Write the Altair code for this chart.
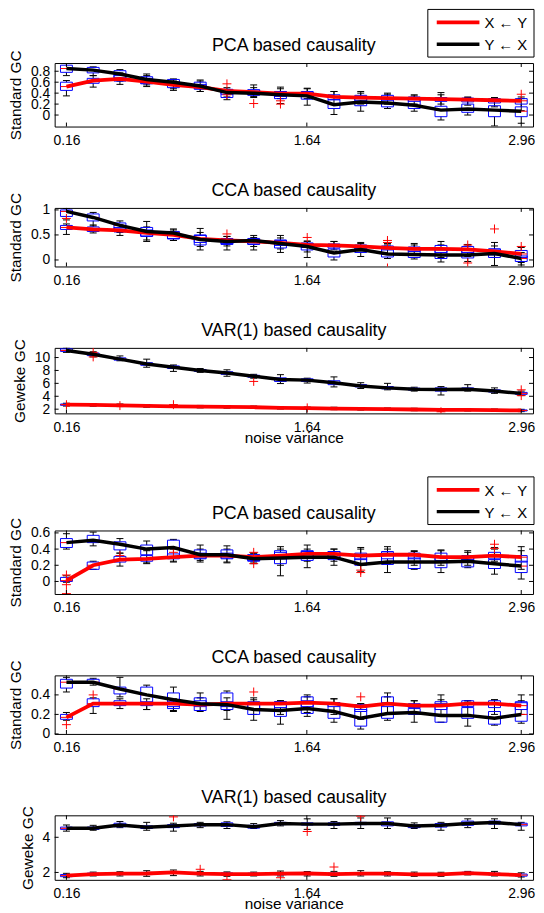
import altair as alt
import pandas as pd

FONT = "Liberation Sans"
NOISE = [0.16, 0.3247, 0.4894, 0.6541, 0.8188, 0.9835, 1.1482, 1.3129, 1.4776,
         1.6424, 1.8071, 1.9718, 2.1365, 2.3012, 2.4659, 2.6306, 2.7953, 2.96]
X_TICKS = [0.16, 1.64, 2.96]
SERIES = ["X \u2190 Y", "Y \u2190 X"]
COLORS = ["#ff0000", "#000000"]

# ---------------- Panel 1: PCA (top figure) ----------------
p1_red_med = [0.52, 0.63, 0.66, 0.61, 0.55, 0.51, 0.44, 0.42, 0.39, 0.39, 0.33, 0.32, 0.31, 0.30, 0.29, 0.28, 0.27, 0.26]
p1_red_q1 = [0.45, 0.58, 0.62, 0.57, 0.50, 0.47, 0.38, 0.38, 0.34, 0.34, 0.28, 0.27, 0.27, 0.25, 0.25, 0.24, 0.22, 0.20]
p1_red_q3 = [0.60, 0.67, 0.72, 0.67, 0.60, 0.56, 0.47, 0.46, 0.43, 0.43, 0.37, 0.36, 0.36, 0.33, 0.32, 0.31, 0.30, 0.30]
p1_red_lo = [0.35, 0.51, 0.56, 0.52, 0.45, 0.43, 0.33, 0.34, 0.30, 0.30, 0.20, 0.20, 0.20, 0.20, 0.20, 0.18, 0.15, 0.08]
p1_red_hi = [0.63, 0.72, 0.77, 0.72, 0.64, 0.62, 0.50, 0.50, 0.48, 0.48, 0.43, 0.40, 0.40, 0.37, 0.37, 0.33, 0.32, 0.33]
p1_blk_med = [0.85, 0.82, 0.75, 0.65, 0.60, 0.53, 0.41, 0.40, 0.37, 0.35, 0.19, 0.24, 0.22, 0.18, 0.09, 0.11, 0.09, 0.07]
p1_blk_q1 = [0.78, 0.77, 0.68, 0.58, 0.55, 0.49, 0.32, 0.36, 0.30, 0.29, 0.12, 0.17, 0.15, 0.12, -0.03, 0.05, -0.03, -0.03]
p1_blk_q3 = [0.91, 0.87, 0.81, 0.70, 0.65, 0.60, 0.46, 0.46, 0.43, 0.42, 0.28, 0.33, 0.30, 0.28, 0.16, 0.20, 0.17, 0.15]
p1_blk_lo = [0.72, 0.72, 0.62, 0.55, 0.48, 0.43, 0.28, 0.32, 0.21, 0.18, 0.01, 0.07, 0.12, 0.07, -0.09, 0.00, -0.20, -0.15]
p1_blk_hi = [0.95, 0.88, 0.83, 0.75, 0.66, 0.64, 0.47, 0.55, 0.51, 0.49, 0.43, 0.43, 0.38, 0.35, 0.41, 0.32, 0.30, 0.30]
p1_out_i = [6, 6, 7, 8, 8, 17]
p1_out_v = [0.57, 0.37, 0.21, 0.26, 0.20, 0.38]

# ---------------- Panel 2: CCA (top figure) ----------------
p2_red_med = [0.65, 0.61, 0.59, 0.54, 0.50, 0.42, 0.39, 0.37, 0.34, 0.30, 0.29, 0.27, 0.24, 0.22, 0.22, 0.21, 0.17, 0.12]
p2_red_q1 = [0.61, 0.57, 0.56, 0.48, 0.43, 0.35, 0.33, 0.32, 0.29, 0.25, 0.24, 0.23, 0.20, 0.17, 0.15, 0.15, 0.10, 0.05]
p2_red_q3 = [0.69, 0.66, 0.65, 0.60, 0.55, 0.49, 0.43, 0.41, 0.39, 0.34, 0.32, 0.30, 0.28, 0.26, 0.29, 0.27, 0.22, 0.19]
p2_red_lo = [0.51, 0.54, 0.49, 0.40, 0.39, 0.27, 0.28, 0.27, 0.22, 0.16, 0.20, 0.18, 0.13, 0.10, 0.05, 0.07, 0.05, -0.05]
p2_red_hi = [0.72, 0.70, 0.70, 0.66, 0.60, 0.55, 0.47, 0.45, 0.44, 0.38, 0.37, 0.33, 0.33, 0.33, 0.30, 0.31, 0.28, 0.25]
p2_blk_med = [0.97, 0.85, 0.69, 0.57, 0.54, 0.41, 0.37, 0.39, 0.33, 0.27, 0.14, 0.21, 0.12, 0.11, 0.10, 0.10, 0.13, 0.03]
p2_blk_q1 = [0.87, 0.78, 0.62, 0.47, 0.42, 0.30, 0.31, 0.31, 0.24, 0.20, 0.06, 0.15, 0.06, 0.05, 0.03, 0.04, 0.05, -0.03]
p2_blk_q3 = [1.00, 0.92, 0.74, 0.65, 0.57, 0.50, 0.42, 0.43, 0.40, 0.33, 0.22, 0.28, 0.22, 0.20, 0.20, 0.19, 0.22, 0.08]
p2_blk_lo = [0.80, 0.68, 0.55, 0.37, 0.39, 0.20, 0.20, 0.20, 0.15, 0.05, 0.00, 0.07, 0.03, 0.02, -0.04, -0.03, -0.11, -0.10]
p2_blk_hi = [1.03, 0.95, 0.78, 0.77, 0.62, 0.63, 0.47, 0.49, 0.49, 0.37, 0.37, 0.35, 0.30, 0.30, 0.37, 0.30, 0.35, 0.15]
p2_out_i = [0, 6, 9, 12, 12, 12, 15, 15, 16, 17]
p2_out_v = [0.83, 0.52, 0.45, 0.39, 0.35, -0.16, 0.30, -0.06, 0.62, 0.27]

# ---------------- Panel 3: VAR(1) (top figure) ----------------
p3_red_med = [2.70, 2.65, 2.60, 2.52, 2.45, 2.40, 2.35, 2.30, 2.20, 2.15, 2.10, 2.05, 2.00, 1.95, 1.90, 1.90, 1.85, 1.80]
p3_red_q1 = [2.60, 2.56, 2.50, 2.42, 2.36, 2.31, 2.26, 2.22, 2.12, 2.06, 2.01, 1.97, 1.91, 1.86, 1.82, 1.81, 1.77, 1.72]
p3_red_q3 = [2.80, 2.74, 2.69, 2.61, 2.55, 2.49, 2.44, 2.39, 2.29, 2.24, 2.19, 2.14, 2.09, 2.04, 1.99, 1.98, 1.93, 1.88]
p3_red_lo = [2.48, 2.46, 2.40, 2.30, 2.26, 2.20, 2.16, 2.12, 2.02, 1.96, 1.92, 1.86, 1.82, 1.76, 1.70, 1.72, 1.66, 1.62]
p3_red_hi = [2.92, 2.84, 2.80, 2.72, 2.64, 2.58, 2.55, 2.48, 2.38, 2.33, 2.30, 2.24, 2.18, 2.14, 2.08, 2.08, 2.02, 1.98]
p3_blk_med = [11.10, 10.50, 9.75, 9.00, 8.50, 8.00, 7.60, 7.10, 6.60, 6.50, 6.10, 5.60, 5.30, 5.10, 5.05, 5.10, 4.80, 4.45]
p3_blk_q1 = [10.95, 10.30, 9.60, 8.80, 8.30, 7.85, 7.40, 6.95, 6.30, 6.30, 5.80, 5.45, 5.15, 4.95, 4.80, 4.90, 4.65, 4.30]
p3_blk_q3 = [11.35, 10.70, 9.95, 9.20, 8.70, 8.15, 7.80, 7.25, 6.85, 6.70, 6.40, 5.80, 5.50, 5.25, 5.30, 5.30, 5.00, 4.60]
p3_blk_lo = [10.80, 10.10, 9.50, 8.50, 7.85, 7.70, 7.10, 6.80, 5.97, 6.05, 5.45, 5.20, 5.00, 4.80, 4.20, 4.80, 4.45, 4.10]
p3_blk_hi = [11.50, 10.90, 10.25, 9.75, 8.85, 8.30, 8.10, 7.40, 7.35, 6.80, 7.00, 6.10, 6.00, 5.40, 5.50, 5.80, 5.30, 4.80]
p3_out_i = [1, 1, 7, 17, 17, 0, 2, 4, 9, 14]
p3_out_v = [10.10, 10.80, 6.30, 5.00, 4.10, 2.70, 2.55, 2.70, 2.20, 1.60]

# ---------------- Panel 4: PCA (bottom figure) ----------------
p4_red_med = [0.01, 0.20, 0.27, 0.28, 0.30, 0.32, 0.32, 0.30, 0.32, 0.34, 0.34, 0.32, 0.33, 0.33, 0.30, 0.30, 0.32, 0.30]
p4_red_q1 = [0.00, 0.15, 0.24, 0.25, 0.28, 0.28, 0.28, 0.26, 0.28, 0.29, 0.30, 0.27, 0.28, 0.28, 0.26, 0.27, 0.28, 0.24]
p4_red_q3 = [0.05, 0.24, 0.31, 0.32, 0.34, 0.35, 0.35, 0.33, 0.38, 0.38, 0.37, 0.35, 0.37, 0.35, 0.35, 0.32, 0.36, 0.32]
p4_red_lo = [-0.01, 0.15, 0.19, 0.22, 0.25, 0.24, 0.24, 0.24, 0.20, 0.25, 0.25, 0.20, 0.22, 0.20, 0.20, 0.20, 0.25, 0.15]
p4_red_hi = [0.07, 0.25, 0.35, 0.38, 0.40, 0.40, 0.40, 0.35, 0.40, 0.40, 0.40, 0.40, 0.40, 0.37, 0.38, 0.36, 0.40, 0.38]
p4_blk_med = [0.48, 0.51, 0.46, 0.40, 0.42, 0.33, 0.33, 0.28, 0.29, 0.30, 0.30, 0.21, 0.24, 0.24, 0.24, 0.25, 0.22, 0.19]
p4_blk_q1 = [0.42, 0.48, 0.39, 0.33, 0.30, 0.29, 0.29, 0.25, 0.22, 0.26, 0.27, 0.20, 0.21, 0.16, 0.17, 0.18, 0.16, 0.11]
p4_blk_q3 = [0.53, 0.57, 0.49, 0.45, 0.51, 0.39, 0.39, 0.33, 0.36, 0.37, 0.37, 0.28, 0.35, 0.29, 0.30, 0.30, 0.27, 0.25]
p4_blk_lo = [0.40, 0.44, 0.35, 0.23, 0.24, 0.26, 0.23, 0.22, 0.07, 0.17, 0.20, 0.12, 0.11, 0.15, 0.11, 0.17, 0.09, 0.03]
p4_blk_hi = [0.59, 0.61, 0.53, 0.50, 0.52, 0.45, 0.44, 0.35, 0.43, 0.45, 0.40, 0.42, 0.43, 0.38, 0.39, 0.38, 0.42, 0.43]
p4_out_i = [0, 0, 0, 2, 4, 7, 7, 11, 11, 16, 16]
p4_out_v = [0.08, -0.04, -0.15, 0.32, 0.36, 0.36, 0.22, 0.14, 0.11, 0.46, 0.41]

# ---------------- Panel 5: CCA (bottom figure) ----------------
p5_red_med = [0.17, 0.31, 0.31, 0.31, 0.31, 0.30, 0.31, 0.31, 0.31, 0.32, 0.31, 0.28, 0.31, 0.29, 0.29, 0.31, 0.31, 0.29]
p5_red_q1 = [0.15, 0.28, 0.29, 0.29, 0.28, 0.28, 0.28, 0.26, 0.27, 0.28, 0.28, 0.23, 0.28, 0.27, 0.25, 0.28, 0.27, 0.25]
p5_red_q3 = [0.20, 0.36, 0.34, 0.33, 0.33, 0.34, 0.33, 0.32, 0.33, 0.34, 0.32, 0.30, 0.32, 0.31, 0.31, 0.34, 0.34, 0.32]
p5_red_lo = [0.14, 0.21, 0.26, 0.25, 0.24, 0.24, 0.24, 0.20, 0.20, 0.22, 0.20, 0.15, 0.20, 0.20, 0.20, 0.20, 0.20, 0.20]
p5_red_hi = [0.22, 0.37, 0.36, 0.36, 0.36, 0.37, 0.37, 0.35, 0.34, 0.38, 0.36, 0.31, 0.38, 0.34, 0.35, 0.34, 0.35, 0.34]
p5_blk_med = [0.53, 0.53, 0.46, 0.40, 0.35, 0.31, 0.30, 0.25, 0.24, 0.26, 0.23, 0.16, 0.21, 0.22, 0.19, 0.19, 0.16, 0.20]
p5_blk_q1 = [0.47, 0.52, 0.41, 0.30, 0.26, 0.24, 0.25, 0.20, 0.18, 0.21, 0.16, 0.08, 0.16, 0.20, 0.12, 0.16, 0.10, 0.13]
p5_blk_q3 = [0.56, 0.56, 0.48, 0.48, 0.42, 0.37, 0.42, 0.33, 0.33, 0.38, 0.32, 0.25, 0.38, 0.26, 0.33, 0.27, 0.23, 0.33]
p5_blk_lo = [0.43, 0.50, 0.38, 0.25, 0.23, 0.23, 0.15, 0.14, 0.10, 0.18, 0.12, 0.05, 0.14, 0.12, 0.12, 0.08, 0.09, 0.11]
p5_blk_hi = [0.58, 0.57, 0.58, 0.50, 0.48, 0.42, 0.44, 0.37, 0.34, 0.40, 0.36, 0.31, 0.42, 0.34, 0.40, 0.34, 0.35, 0.40]
p5_out_i = [0, 1, 7, 11]
p5_out_v = [0.095, 0.40, 0.43, 0.38]

# ---------------- Panel 6: VAR(1) (bottom figure) ----------------
p6_red_med = [1.82, 1.91, 1.93, 1.94, 2.00, 1.93, 1.91, 1.91, 1.93, 1.94, 1.91, 1.93, 1.93, 1.89, 1.89, 1.96, 1.91, 1.85]
p6_red_q1 = [1.76, 1.86, 1.88, 1.88, 1.94, 1.88, 1.86, 1.86, 1.87, 1.88, 1.85, 1.88, 1.87, 1.84, 1.84, 1.91, 1.86, 1.79]
p6_red_q3 = [1.88, 1.96, 1.98, 2.00, 2.05, 1.98, 1.97, 1.96, 1.99, 2.00, 1.97, 1.98, 1.99, 1.94, 1.94, 2.01, 1.96, 1.91]
p6_red_lo = [1.70, 1.80, 1.80, 1.78, 1.82, 1.80, 1.78, 1.80, 1.80, 1.80, 1.78, 1.80, 1.80, 1.78, 1.78, 1.86, 1.80, 1.74]
p6_red_hi = [1.95, 2.02, 2.04, 2.10, 2.14, 2.06, 2.03, 2.02, 2.08, 2.05, 2.06, 2.10, 2.04, 2.02, 2.01, 2.06, 2.06, 1.98]
p6_blk_med = [4.51, 4.51, 4.70, 4.57, 4.64, 4.72, 4.72, 4.60, 4.79, 4.75, 4.75, 4.79, 4.79, 4.64, 4.68, 4.79, 4.84, 4.72]
p6_blk_q1 = [4.45, 4.45, 4.60, 4.50, 4.55, 4.65, 4.62, 4.52, 4.72, 4.70, 4.68, 4.72, 4.65, 4.55, 4.58, 4.68, 4.75, 4.65]
p6_blk_q3 = [4.58, 4.58, 4.80, 4.65, 4.72, 4.78, 4.82, 4.68, 4.85, 4.82, 4.82, 4.85, 4.88, 4.70, 4.78, 4.92, 4.92, 4.80]
p6_blk_lo = [4.35, 4.40, 4.55, 4.40, 4.35, 4.55, 4.50, 4.50, 4.65, 4.45, 4.50, 4.50, 4.50, 4.50, 4.40, 4.55, 4.50, 4.40]
p6_blk_hi = [4.70, 4.68, 4.90, 4.85, 4.80, 4.85, 4.88, 4.78, 4.95, 5.05, 4.90, 5.10, 5.10, 4.82, 4.85, 5.05, 5.05, 4.85]
p6_out_i = [4, 9, 11, 5, 6, 8, 10]
p6_out_v = [5.16, 4.33, 5.20, 2.18, 1.60, 1.70, 2.31]

TITLES = ["PCA based causality", "CCA based causality", "VAR(1) based causality"]
YTITLES = ["Standard GC", "Standard GC", "Geweke GC"]
XTITLE = "noise variance"

W = 482
X_DOMAIN = [0.118, 3.002]


def panel(title, ytitle, ydom, yticks, h, red, blk, out_i, out_v, xtitle=None, legend=False):
    rows = []
    for s, st in zip(SERIES, (red, blk)):
        med, q1, q3, lo, hi = st
        for i in range(len(NOISE)):
            rows.append(dict(s=s, x=NOISE[i], med=med[i], q1=q1[i], q3=q3[i], lo=lo[i], hi=hi[i]))
    df = pd.DataFrame(rows)
    dout = pd.DataFrame({"x": [NOISE[i] for i in out_i], "y": out_v})
    dxt = pd.DataFrame({"x": X_TICKS})
    dyt = pd.DataFrame({"y": yticks})
    one = pd.DataFrame({"k": [0]})

    xs = alt.Scale(domain=X_DOMAIN, nice=False, zero=False)
    ys = alt.Scale(domain=ydom, nice=False, zero=False)
    if xtitle:
        xaxis = alt.Axis(values=X_TICKS, format=".2f", title=xtitle, labelOverlap=False)
    else:
        xaxis = alt.Axis(values=X_TICKS, format=".2f", title=None, labelOverlap=False)
    yaxis = alt.Axis(values=yticks, format=".2~f", title=ytitle, labelOverlap=False)

    def X(f):
        return alt.X(f, type="quantitative", scale=xs, axis=xaxis)

    def Y(f):
        return alt.Y(f, type="quantitative", scale=ys, axis=yaxis)

    base = alt.Chart(df)
    pt = dict(filled=False, opacity=1, strokeWidth=1, clip=True)
    layers = [
        base.mark_rule(color="black", strokeWidth=1, clip=True).encode(x=X("x"), y=Y("q3"), y2="hi"),
        base.mark_rule(color="black", strokeWidth=1, clip=True).encode(x=X("x"), y=Y("lo"), y2="q1"),
        base.mark_point(shape="M-1,0L1,0", size=49, color="black", **pt).encode(x=X("x"), y=Y("hi")),
        base.mark_point(shape="M-1,0L1,0", size=49, color="black", **pt).encode(x=X("x"), y=Y("lo")),
        base.mark_bar(width=12, fill="transparent", stroke="#0000ff", strokeWidth=1, clip=True).encode(
            x=X("x"), y=Y("q1"), y2="q3"),
        base.mark_point(shape="M-1,0L1,0", size=144, color="#ff0000", **pt).encode(x=X("x"), y=Y("med")),
        alt.Chart(dout).mark_point(shape="M-1,0L1,0M0,-1L0,1", size=81, color="#ff0000", **pt).encode(
            x=X("x"), y=Y("y")),
        alt.Chart(df[df.s == SERIES[0]]).mark_line(color=COLORS[0], strokeWidth=3.8, clip=True).encode(
            x=X("x"), y=Y("med")),
        alt.Chart(df[df.s == SERIES[1]]).mark_line(color=COLORS[1], strokeWidth=3.5, clip=True).encode(
            x=X("x"), y=Y("med")),
        # inward ticks (MATLAB style)
        alt.Chart(dxt).mark_rule(color="black", strokeWidth=1).encode(x=X("x"), y=alt.value(0), y2=alt.value(4)),
        alt.Chart(dxt).mark_rule(color="black", strokeWidth=1).encode(x=X("x"), y=alt.value(h - 4), y2=alt.value(h)),
        alt.Chart(dyt).mark_rule(color="black", strokeWidth=1).encode(y=Y("y"), x=alt.value(0), x2=alt.value(4)),
        alt.Chart(dyt).mark_rule(color="black", strokeWidth=1).encode(y=Y("y"), x=alt.value(W - 4), x2=alt.value(W)),
        # panel title
        alt.Chart(one).mark_text(align="center", baseline="middle", font=FONT, fontSize=18, color="black").encode(
            x=alt.value(W / 2), y=alt.value(-17), text=alt.value(title)),
    ]
    if legend:
        layers += [
            alt.Chart(one).mark_rect(fill="white", stroke="black", strokeWidth=1).encode(
                x=alt.value(376), x2=alt.value(483), y=alt.value(-54), y2=alt.value(-6)),
            alt.Chart(one).mark_rule(color=COLORS[0], strokeWidth=3.8).encode(
                x=alt.value(385), x2=alt.value(428), y=alt.value(-41)),
            alt.Chart(one).mark_rule(color=COLORS[1], strokeWidth=3.5).encode(
                x=alt.value(385), x2=alt.value(428), y=alt.value(-19)),
            alt.Chart(one).mark_text(align="left", baseline="middle", font=FONT, fontSize=15, color="black").encode(
                x=alt.value(433), y=alt.value(-40), text=alt.value(SERIES[0])),
            alt.Chart(one).mark_text(align="left", baseline="middle", font=FONT, fontSize=15, color="black").encode(
                x=alt.value(433), y=alt.value(-18), text=alt.value(SERIES[1])),
        ]
    return alt.layer(*layers).properties(width=W, height=h)


p1 = panel(TITLES[0], YTITLES[0], [-0.21, 0.95], [0, 0.2, 0.4, 0.6, 0.8], 64,
           (p1_red_med, p1_red_q1, p1_red_q3, p1_red_lo, p1_red_hi),
           (p1_blk_med, p1_blk_q1, p1_blk_q3, p1_blk_lo, p1_blk_hi), p1_out_i, p1_out_v, legend=True)
p2 = panel(TITLES[1], YTITLES[1], [-0.13, 1.04], [0, 0.5, 1], 59,
           (p2_red_med, p2_red_q1, p2_red_q3, p2_red_lo, p2_red_hi),
           (p2_blk_med, p2_blk_q1, p2_blk_q3, p2_blk_lo, p2_blk_hi), p2_out_i, p2_out_v)
p3 = panel(TITLES[2], YTITLES[2], [1.35, 11.5], [2, 4, 6, 8, 10], 66,
           (p3_red_med, p3_red_q1, p3_red_q3, p3_red_lo, p3_red_hi),
           (p3_blk_med, p3_blk_q1, p3_blk_q3, p3_blk_lo, p3_blk_hi), p3_out_i, p3_out_v, xtitle=XTITLE)
p4 = panel(TITLES[0], YTITLES[0], [-0.155, 0.63], [0, 0.2, 0.4, 0.6], 64,
           (p4_red_med, p4_red_q1, p4_red_q3, p4_red_lo, p4_red_hi),
           (p4_blk_med, p4_blk_q1, p4_blk_q3, p4_blk_lo, p4_blk_hi), p4_out_i, p4_out_v, legend=True)
p5 = panel(TITLES[1], YTITLES[1], [0.0, 0.6], [0, 0.2, 0.4], 59,
           (p5_red_med, p5_red_q1, p5_red_q3, p5_red_lo, p5_red_hi),
           (p5_blk_med, p5_blk_q1, p5_blk_q3, p5_blk_lo, p5_blk_hi), p5_out_i, p5_out_v)
p6 = panel(TITLES[2], YTITLES[2], [1.58, 5.25], [2, 4], 65,
           (p6_red_med, p6_red_q1, p6_red_q3, p6_red_lo, p6_red_hi),
           (p6_blk_med, p6_blk_q1, p6_blk_q3, p6_blk_lo, p6_blk_hi), p6_out_i, p6_out_v, xtitle=XTITLE)

chart = alt.vconcat(
    alt.vconcat(p1, p2, p3, spacing=33),
    alt.vconcat(p4, p5, p6, spacing=33),
    spacing=30,
).properties(
    padding={"top": -3, "bottom": 0, "left": 0, "right": 0}
).configure_view(
    stroke="black", strokeWidth=1
).configure_axis(
    labelFont=FONT, labelFontSize=14, labelColor="black",
    titleFont=FONT, titleFontSize=15.5, titleFontWeight="normal", titleColor="black",
    domain=False, ticks=False, grid=False, labelFlush=False,
).configure_axisX(
    labelPadding=7, titlePadding=-4,
).configure_axisY(
    labelPadding=5, titlePadding=7,
)

chart.save("out.html", embed_options={"renderer": "svg", "actions": False})
